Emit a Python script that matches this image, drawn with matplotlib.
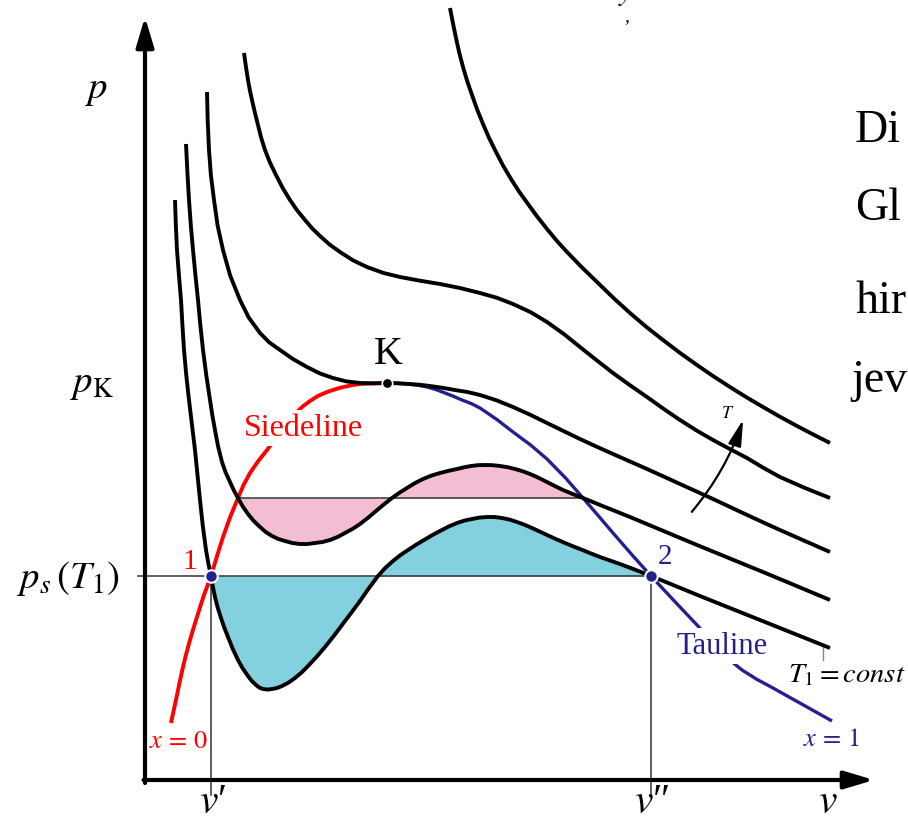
import matplotlib.pyplot as plt
import numpy as np
from matplotlib.path import Path
from matplotlib.patches import FancyArrowPatch

plt.rcParams['font.family'] = ['Liberation Serif', 'DejaVu Serif']
plt.rcParams['mathtext.fontset'] = 'stix'

# isotherms (v, p in arbitrary units, origin at the axes corner)
t1_v = [0.30, 0.32, 0.36, 0.39, 0.44, 0.50, 0.55, 0.61, 0.66, 0.70, 0.76, 0.83, 0.93, 1.03,
        1.11, 1.18, 1.27, 1.37, 1.50, 1.63, 1.80, 1.97, 2.15, 2.33, 2.48, 2.63, 2.79, 2.95,
        3.12, 3.27, 3.42, 3.57, 3.72, 3.87, 4.02, 4.20, 4.35, 4.55, 4.75, 5.06, 5.55, 6.15, 6.85]
t1_p = [5.80, 5.30, 4.80, 4.30, 3.80, 3.30, 2.80, 2.30, 2.04, 1.83, 1.62, 1.43, 1.20, 1.04,
        0.95, 0.91, 0.91, 0.94, 1.02, 1.14, 1.33, 1.55, 1.79, 2.04, 2.19, 2.30, 2.40, 2.49,
        2.57, 2.61, 2.63, 2.62, 2.58, 2.52, 2.45, 2.37, 2.31, 2.23, 2.16, 2.04, 1.84, 1.60, 1.32]

t2_v = [0.41, 0.44, 0.48, 0.53, 0.58, 0.65, 0.70, 0.77, 0.85, 0.93, 1.03, 1.15, 1.27, 1.40,
        1.55, 1.70, 1.85, 2.00, 2.15, 2.31, 2.47, 2.62, 2.78, 2.95, 3.12, 3.26, 3.40, 3.55,
        3.70, 3.85, 4.00, 4.18, 4.38, 4.60, 4.85, 5.52, 6.18, 6.85]
t2_p = [6.36, 5.80, 5.30, 4.80, 4.30, 3.80, 3.50, 3.18, 2.98, 2.82, 2.66, 2.53, 2.44, 2.39,
        2.36, 2.37, 2.40, 2.47, 2.56, 2.69, 2.82, 2.92, 3.01, 3.07, 3.11, 3.14, 3.15, 3.14,
        3.11, 3.06, 2.99, 2.90, 2.82, 2.73, 2.63, 2.35, 2.08, 1.80]

t3_v = [0.62, 0.64, 0.69, 0.78, 0.95, 1.15, 1.35, 1.62, 1.88, 2.15, 2.42, 2.65, 2.85, 3.10,
        3.35, 3.68, 4.02, 4.35, 4.68, 5.02, 5.35, 5.68, 6.00, 6.35, 6.85]
t3_p = [6.88, 6.30, 5.80, 5.30, 4.80, 4.47, 4.30, 4.13, 4.02, 3.97, 3.97, 3.96, 3.94, 3.90,
        3.85, 3.73, 3.57, 3.41, 3.26, 3.11, 2.96, 2.81, 2.66, 2.50, 2.28]

t4_v = [0.99, 1.03, 1.07, 1.13, 1.20, 1.31, 1.45, 1.60, 1.75, 1.95, 2.22, 2.55, 2.95, 3.35,
        3.68, 4.02, 4.35, 4.68, 5.02, 5.35, 5.68, 6.02, 6.35, 6.85]
t4_p = [7.27, 7.00, 6.80, 6.55, 6.30, 6.05, 5.80, 5.60, 5.44, 5.28, 5.13, 5.03, 4.96, 4.87,
        4.76, 4.58, 4.33, 4.07, 3.83, 3.60, 3.40, 3.22, 3.03, 2.82]

t5_v = [3.05, 3.11, 3.18, 3.27, 3.38, 3.51, 3.66, 3.83, 4.02, 4.22, 4.52, 4.85, 5.18, 5.52,
        5.85, 6.18, 6.52, 6.85]
t5_p = [7.72, 7.42, 7.13, 6.85, 6.56, 6.28, 6.01, 5.76, 5.51, 5.28, 4.98, 4.67, 4.40, 4.15,
        3.93, 3.73, 3.54, 3.37]

# boiling line (x = 0) and dew line (x = 1)
sied_v = [0.26, 0.32, 0.38, 0.45, 0.52, 0.59, 0.66, 0.78, 0.93, 1.05, 1.22, 1.37, 1.51, 1.65,
          1.82, 2.08, 2.25, 2.42]
sied_p = [0.57, 0.85, 1.13, 1.40, 1.63, 1.85, 2.04, 2.43, 2.82, 3.07, 3.30, 3.50, 3.67, 3.79,
          3.88, 3.95, 3.965, 3.97]
tau_v = [2.42, 2.62, 2.82, 3.00, 3.17, 3.35, 3.68, 4.02, 4.38, 4.68, 5.06, 5.52, 5.75,
         5.97, 6.28, 6.62, 6.87]
tau_p = [3.97, 3.96, 3.93, 3.87, 3.80, 3.72, 3.48, 3.21, 2.82, 2.47, 2.04, 1.55, 1.30,
         1.10, 0.92, 0.73, 0.59]

# characteristic points
v1, v2, ps = 0.66, 5.06, 2.04          # v', v'', p_s(T1)
pink_a, pink_b, pink_p = 0.93, 4.38, 2.82
vk, pk = 2.42, 3.97

black = 'black'
red = '#ff0000'
navy = '#25208f'
pink = '#f3bed4'
cyan = '#83d0de'
thin = '#333333'


def smooth(xs, ys):
    # bezier path through the read points, flattened by matplotlib
    P = np.column_stack([xs, ys]).astype(float)
    n = len(P)
    verts, codes = [P[0]], [Path.MOVETO]
    for i in range(n - 1):
        p1, p2 = P[i], P[i + 1]
        d = np.linalg.norm(p2 - p1)
        if i > 0:
            t1 = (p2 - P[i - 1]) / (np.linalg.norm(p1 - P[i - 1]) + d)
        else:
            t1 = (p2 - p1) / d
        if i + 2 < n:
            t2 = (P[i + 2] - p1) / (d + np.linalg.norm(P[i + 2] - p2))
        else:
            t2 = (p2 - p1) / d
        verts += [p1 + t1 * d / 3, p2 - t2 * d / 3, p2]
        codes += [Path.CURVE4] * 3
    poly = Path(verts, codes).to_polygons(closed_only=False)[0]
    return poly[:, 0], poly[:, 1]


fig = plt.figure(figsize=(9.08, 8.35), dpi=100)
ax = fig.add_axes([0, 0, 1, 1])
ax.set_xlim(-1.45, 7.63)
ax.set_ylim(-0.55, 7.80)
ax.axis('off')

curves = [smooth(v, p) for v, p in [(t1_v, t1_p), (t2_v, t2_p), (t3_v, t3_p),
                                     (t4_v, t4_p), (t5_v, t5_p)]]

# equal-area fills
v, p = curves[0]
ax.fill_between(v, p, ps, where=(v >= v1 - 1e-6) & (v <= v2 + 1e-6), color=cyan, lw=0, zorder=1)
v, p = curves[1]
ax.fill_between(v, p, pink_p, where=(v >= pink_a - 1e-6) & (v <= pink_b + 1e-6),
                color=pink, lw=0, zorder=1)

# thin construction lines
ax.plot([-0.07, v2], [ps, ps], color=thin, lw=1.1, zorder=2)
ax.plot([pink_a, pink_b], [pink_p, pink_p], color=thin, lw=1.1, zorder=2)
ax.plot([v1, v1], [ps, -0.15], color=thin, lw=1.1, zorder=2)
ax.plot([v2, v2], [ps, -0.15], color=thin, lw=1.1, zorder=2)
ax.plot([6.78, 6.78], [1.33, 1.20], color='#888888', lw=1.0, zorder=2)

# saturation lines
ax.plot(*smooth(sied_v, sied_p), color=red, lw=2.8, zorder=3, solid_capstyle='butt')
ax.plot(*smooth(tau_v, tau_p), color=navy, lw=2.4, zorder=3, solid_capstyle='butt')

# isotherms
for cv, cp in curves:
    ax.plot(cv, cp, color=black, lw=2.8, zorder=5, solid_capstyle='butt')

# points
ax.plot([v1, v2], [ps, ps], 'o', ms=9, color=navy, mec='white', mew=1.5, zorder=6)
ax.plot([vk], [pk], 'o', ms=7.5, color=black, mec='white', mew=1.2, zorder=6)

# axes with arrow heads
arr = dict(arrowstyle='-|>,head_length=0.4,head_width=0.12', lw=3, color=black,
           mutation_scale=45, shrinkA=0, shrinkB=0)
ax.annotate('', xy=(0, 7.63), xytext=(0, -0.03), arrowprops=arr, zorder=7)
ax.annotate('', xy=(7.29, 0), xytext=(-0.015, 0), arrowprops=arr, zorder=7)

# temperature arrow
ax.add_patch(FancyArrowPatch((5.45, 2.66), (5.99, 3.63), connectionstyle='arc3,rad=0.1',
                             arrowstyle='-|>,head_length=0.4,head_width=0.1',
                             mutation_scale=40, lw=1.6, color=black, zorder=7))
ax.text(5.83, 3.67, '$T$', fontsize=13, ha='center', va='center')

# labels
ax.text(-0.48, 6.90, '$p$', fontsize=28, ha='center', va='center')
ax.text(-0.53, 3.97, r'$p_{\mathrm{K}}$', fontsize=28, ha='center', va='center')
ax.text(-0.77, 2.02, r'$p_s\,(T_1)$', fontsize=28, ha='center', va='center')
ax.text(0.68, -0.23, '$v$\u2032', fontsize=30, ha='center', va='center')
ax.text(5.07, -0.23, '$v$\u2033', fontsize=30, ha='center', va='center')
ax.text(6.83, -0.23, '$v$', fontsize=30, ha='center', va='center')

ax.text(2.43, 4.26, 'K', fontsize=29, ha='center', va='center')
ax.text(0.45, 2.18, '1', fontsize=21, color=red, ha='center', va='center')
ax.text(5.20, 2.23, '2', fontsize=21, color=navy, ha='center', va='center')

ax.text(1.58, 3.52, 'Siedeline', fontsize=23, color=red, ha='center', va='center', zorder=4,
        bbox=dict(boxstyle='square,pad=0.1', fc='white', ec='none'))
ax.text(5.77, 1.34, 'Tauline', fontsize=22, color=navy, ha='center', va='center', zorder=4,
        bbox=dict(boxstyle='square,pad=0.1', fc='white', ec='none'))
ax.text(0.33, 0.38, '$x\\,=\\,0$', fontsize=19, color=red, ha='center', va='center')
ax.text(6.86, 0.40, '$x\\,=\\,1$', fontsize=19, color=navy, ha='center', va='center')
ax.text(6.43, 0.98, '$T_1 = const$', fontsize=20.5, ha='left', va='baseline')

# slide text cut off at the right edge
for txt, x, y in [('Di', 7.10, 6.38), ('Gl', 7.10, 5.60), ('hir', 7.10, 4.67), ('jev', 7.06, 3.88)]:
    ax.text(x, y, txt, fontsize=33, ha='left', va='baseline')
ax.text(4.80, 7.80, '$y$', fontsize=20, ha='center', va='baseline')
ax.text(4.82, 7.63, ',', fontsize=14, ha='center', va='center', style='italic')

fig.savefig('out.png', dpi=100)
